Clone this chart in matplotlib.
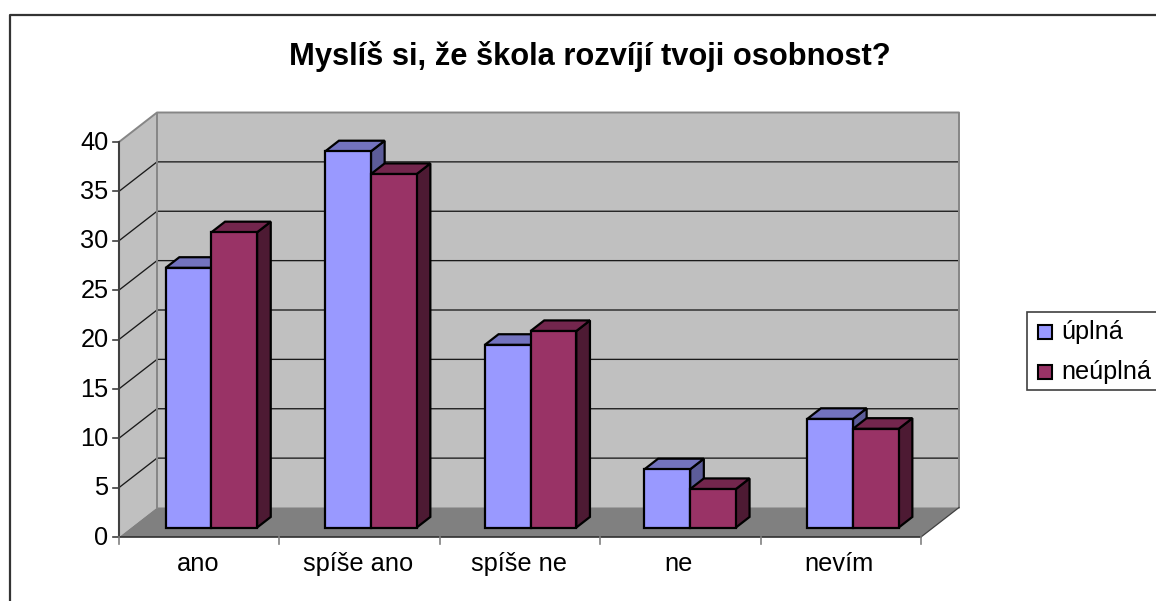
import matplotlib
matplotlib.use("Agg")
import matplotlib.pyplot as plt
from matplotlib.patches import Polygon, Rectangle
from matplotlib.lines import Line2D

categories = ["ano", "spíše ano", "spíše ne", "ne", "nevím"]
uplna = [26.3, 38.1, 18.5, 5.9, 11.0]
neuplna = [29.9, 35.8, 19.9, 3.9, 10.0]
series_names = ["úplná", "neúplná"]
yticks = [0, 5, 10, 15, 20, 25, 30, 35, 40]
title = "Myslíš si, že škola rozvíjí tvoji osobnost?"

W, H = 1156, 601
plt.rcParams["font.family"] = ["Liberation Sans", "DejaVu Sans"]
fig = plt.figure(figsize=(W / 100, H / 100), dpi=100)
L, R, B, T = 119, 921, 537, 142
ax = fig.add_axes([L / W, 1 - B / H, (R - L) / W, (B - T) / H])
ax.set_xlim(0, len(categories))
ax.set_ylim(0, 40)
ax.axis("off")

DX = 38 / ((R - L) / len(categories))
DY = 29.5 / ((B - T) / 40)
def P(x, v, t):
    return (x + t * DX, v + t * DY)

def poly(pts, fc, ec="none", lw=0, z=1):
    ax.add_patch(Polygon(pts, closed=True, facecolor=fc, edgecolor=ec, linewidth=lw,
                         zorder=z, clip_on=False, joinstyle="miter"))

n = len(categories)
ymax = yticks[-1]
# walls and floor
poly([P(0, 0, 0), P(0, 0, 1), P(0, ymax, 1), P(0, ymax, 0)], "#C0C0C0", z=1)
poly([P(0, 0, 1), P(n, 0, 1), P(n, ymax, 1), P(0, ymax, 1)], "#C0C0C0", z=1)
poly([P(0, 0, 0), P(n, 0, 0), P(n, 0, 1), P(0, 0, 1)], "#808080", z=1.5)
# gridlines
for v in yticks[1:-1]:
    a, b, c = P(0, v, 0), P(0, v, 1), P(n, v, 1)
    ax.plot([a[0], b[0], c[0]], [a[1], b[1], c[1]], color="#1a1a1a", lw=0.95, zorder=2,
            clip_on=False, solid_joinstyle="miter")
# wall edges
a, b, c, d = P(0, ymax, 0), P(0, ymax, 1), P(n, ymax, 1), P(n, 0, 1)
ax.plot([a[0], b[0], c[0], d[0]], [a[1], b[1], c[1], d[1]], color="#868686", lw=1.4, zorder=2.5, clip_on=False)
e = P(0, 0, 1)
ax.plot([b[0], e[0]], [b[1], e[1]], color="#868686", lw=1.4, zorder=2.5, clip_on=False)
f, g = P(n, 0, 0), P(n, 0, 1)
ax.plot([f[0], g[0]], [f[1], g[1]], color="#404040", lw=0.9, zorder=2.5, clip_on=False)
# axes
ax.plot([0, 0], [0, ymax], color="#404040", lw=1.5, zorder=3, clip_on=False)
ax.plot([0, n], [0, 0], color="#303030", lw=1.2, zorder=3, clip_on=False)
for v in yticks:
    ax.plot([0, -6 / ((R - L) / n)], [v, v], color="#404040", lw=1.2, zorder=3, clip_on=False)
    ax.annotate(str(v), (0, v), xytext=(-7.5, -0.5), textcoords="offset points", ha="right", va="center",
                fontsize=18.3, color="black")
for i in range(n + 1):
    ax.plot([i, i], [0, -7 / ((B - T) / 40)], color="#808080", lw=1.2, zorder=3, clip_on=False)
for i, c_ in enumerate(categories):
    ax.annotate(c_, (i + 0.5, 0), xytext=(-1, -19.5), textcoords="offset points", ha="center", va="center",
                fontsize=18.3, color="black")

# bars
T0, T1 = 0.32, 0.68
BW = 0.285
OFF = [0.0, -0.005, -0.01, -0.015, 0.0]
cols = [("#9999FF", "#7373BF", "#5C5C99"), ("#993366", "#73264D", "#4D1A33")]
for i in range(n):
    for j, vals in enumerate((uplna, neuplna)):
        x0 = i + 0.5 - BW + j * BW + OFF[i]
        x1 = x0 + BW
        v = vals[i]
        front, top, side = cols[j]
        z = 4 + i + j * 0.1
        kw = dict(ec="black", lw=1.6, z=z)
        poly([P(x1, 0, T0), P(x1, 0, T1), P(x1, v, T1), P(x1, v, T0)], side, **kw)
        poly([P(x0, v, T0), P(x1, v, T0), P(x1, v, T1), P(x0, v, T1)], top, **kw)
        poly([P(x0, 0, T0), P(x1, 0, T0), P(x1, v, T0), P(x0, v, T0)], front, **kw)

# chart frame (left and top sides are visible)
fig.add_artist(Line2D([9.5 / W, 9.5 / W, 1], [0, 1 - 14.5 / H, 1 - 14.5 / H], color="#333333", lw=1.6))
fig.text(589.5 / W, 1 - 56 / H, title, ha="center", va="center", fontsize=22.2, fontweight="bold", color="black")

# legend
fig.add_artist(Rectangle((1027 / W, 1 - 389.5 / H), 135 / W, 78 / H, transform=fig.transFigure,
                         facecolor="white", edgecolor="#404040", lw=1.2))
for k, (nm, col) in enumerate(zip(series_names, cols)):
    yc = 332 + 40 * k
    fig.add_artist(Rectangle((1038 / W, 1 - (yc + 7) / H), 14 / W, 14 / H, transform=fig.transFigure,
                             facecolor=col[0], edgecolor="black", lw=1.5))
    fig.text(1061 / W, 1 - (yc + 0) / H, nm, ha="left", va="center", fontsize=18.2, color="black")

fig.savefig("out.png", dpi=100)
